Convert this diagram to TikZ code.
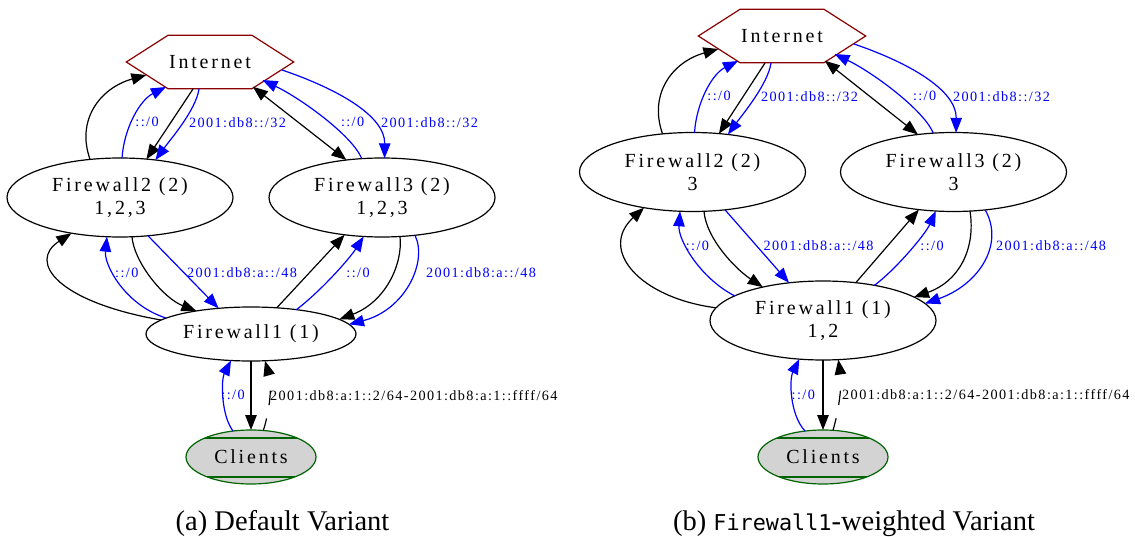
\documentclass[tikz,border=0pt]{standalone}
\usepackage{fontspec}
\setmainfont{Liberation Serif}
\newfontfamily\gvnode[LetterSpace=14]{Liberation Serif}
\newfontfamily\gvedge[LetterSpace=10]{Liberation Serif}
\newfontfamily\capmono{DejaVu Sans Mono}
\usetikzlibrary{arrows.meta,shapes.geometric,calc}

\definecolor{gvblue}{RGB}{0,0,255}
\definecolor{gvred}{RGB}{139,0,0}
\definecolor{gvgreen}{RGB}{0,100,0}
\definecolor{gvgray}{RGB}{211,211,211}

\tikzset{
  >={Triangle[length=15pt,width=11.5pt]},
  conn/.style={line width=1.2pt,->},
  bk/.style={conn,draw=black},
  bl/.style={conn,draw=gvblue},
  nodefont/.style={font=\gvnode\fontsize{20pt}{23pt}\selectfont},
  fwnode/.style={ellipse,draw,line width=1.2pt,inner sep=0pt,align=center,nodefont},
  bigfw/.style={fwnode,minimum width=226pt,minimum height=79pt},
  netnode/.style={inner sep=0pt,minimum width=167pt,minimum height=53pt,nodefont},
  netline/.style={draw=gvred,line width=1.2pt,line join=miter},
  clientnode/.style={ellipse,draw=gvgreen,fill=gvgray,line width=1.2pt,inner sep=0pt,
    minimum width=130pt,minimum height=54pt,nodefont,
    path picture={
      \draw[gvgreen,line width=1.2pt]
        ([yshift=-8pt]path picture bounding box.north west) --
        ([yshift=-8pt]path picture bounding box.north east);
      \draw[gvgreen,line width=1.2pt]
        ([yshift=7pt]path picture bounding box.south west) --
        ([yshift=7pt]path picture bounding box.south east);
    }},
  elab/.style={inner sep=0pt,font=\gvedge\fontsize{14.2pt}{17pt}\selectfont},
  blab/.style={elab,text=gvblue},
  broken/.style={dash pattern=on 12.5pt off 13.5pt on 14.5pt off 60pt},
  caption/.style={anchor=base,inner sep=0pt,font=\fontsize{28.5pt}{34pt}\selectfont},
}

\begin{document}
\begin{tikzpicture}[x=1pt,y=-1pt]
\useasboundingbox (0,0) rectangle (1135,537);

% ---------- (a) default variant: nodes ----------
\node[netnode] (aI) at (210,62) {Internet};
\node[bigfw] (aF2) at (120,197.5) {Firewall2 (2)\\1,2,3};
\node[bigfw] (aF3) at (382,197.5) {Firewall3 (2)\\1,2,3};
\node[fwnode,minimum width=210pt,minimum height=54pt] (aF1) at (251,334) {Firewall1 (1)};
\node[clientnode] (aC) at (251,457) {Clients};

% ---------- (b) weighted variant: nodes ----------
\node[netnode] (bI) at (782,36) {Internet};
\node[bigfw] (bF2) at (692.5,172) {Firewall2 (2)\\3};
\node[bigfw] (bF3) at (953.5,172) {Firewall3 (2)\\3};
\node[bigfw] (bF1) at (823,320.5) {Firewall1 (1)\\1,2};
\node[clientnode] (bC) at (823,457) {Clients};

% ---------- upper half, identical in both variants ----------
\foreach \p in {a,b}{
  % hexagon outline of the Internet node
  \draw[netline] (\p I.west) -- ([xshift=-42pt]\p I.north) -- ([xshift=42pt]\p I.north)
    -- (\p I.east) -- ([xshift=42pt]\p I.south) -- ([xshift=-42pt]\p I.south) -- cycle;
  % Firewall2 <-> Internet
  \draw[bk] ($(\p F2)+(-30,-38.3)$) .. controls ($(\p F2)+(-44,-77.5)$) and ($(\p I)+(-110,26)$) .. ($(\p I)+(-63.6,13)$);
  \draw[bl] ($(\p F2)+(2,-39.3)$) .. controls ($(\p F2)+(4,-69.5)$) and ($(\p I)+(-70,38)$) .. ($(\p I)+(-44,25)$);
  \node[blab] (\p L1) at ($(\p I)+(-63,60.3)$) {::/0};
  \draw[bk] ($(\p I)+(-17,27)$) -- ($(\p F2)+(26.4,-38.2)$);
  \draw[bl] ($(\p I)+(-11,27)$) .. controls ($(\p I)+(-14,48)$) and ($(\p F2)+(50,-57.5)$) .. ($(\p F2)+(35.4,-37.5)$);
  \node[blab] (\p L2) at ($(\p I)+(27.5,60.3)$) {2001:db8::/32};
  % Firewall3 <-> Internet
  \draw[line width=1.2pt,<->] ($(\p I)+(42.8,24.7)$) -- ($(\p F3)+(-35.6,-37.5)$);
  \draw[bl] ($(\p F3)+(-20.2,-38.8)$) .. controls ($(\p F3)+(-30,-62.5)$) and ($(\p I)+(90,36)$) .. ($(\p I)+(52.5,18)$);
  \node[blab] (\p L3) at ($(\p I)+(142.6,60.3)$) {::/0};
  \draw[bl] ($(\p I)+(72,8)$) .. controls ($(\p I)+(125,26)$) and ($(\p F3)+(3,-82.5)$) .. ($(\p F3)+(2.6,-39.2)$);
  \node[blab] (\p L4) at ($(\p I)+(219.5,60.3)$) {2001:db8::/32};
}

% ---------- (a) lower half ----------
\draw[bk] ($(aF1)+(-90,-14)$) .. controls (58,302) and (27,262) .. ($(aF2)+(-48.6,35.8)$);
\draw[bl] ($(aF1)+(-85,-16)$) .. controls (125,305) and (104,265) .. ($(aF2)+(-13,39.2)$);
\node[blab] (aL5) at (126.8,272.7) {::/0};
\draw[bk] ($(aF2)+(12,39.3)$) .. controls (134,262) and (163,298) .. ($(aF1)+(-54.6,-23)$);
\draw[bl] ($(aF2)+(28,38.3)$) -- ($(aF1)+(-32.4,-25.7)$);
\node[blab] (aL6) at (242,272.7) {2001:db8:a::/48};
\draw[bk] ($(aF1)+(25.8,-26.2)$) -- ($(aF3)+(-37.4,37.3)$);
\draw[bl] ($(aF1)+(45.4,-24.3)$) .. controls (322,290) and (350,258) .. ($(aF3)+(-18.4,39)$);
\node[blab] (aL7) at (358,272.7) {::/0};
\draw[bk] ($(aF3)+(18,39)$) .. controls (403,265) and (385,302) .. ($(aF1)+(88.3,-14.6)$);
\draw[bl] ($(aF3)+(33,37.8)$) .. controls (428,262) and (405,310) .. ($(aF1)+(98,-9.7)$);
\node[blab] (aL8) at (481,272.7) {2001:db8:a::/48};
\draw[bl] ($(aC)+(-18,-26)$) .. controls (221,415) and (221,380) .. ($(aF1)+(-20,26.5)$);
\node[blab] (aL9) at (233,395) {::/0};
\draw[bk] ($(aF1)+(0,27)$) -- ($(aC)+(0,-27)$);
\draw[bk,broken] ($(aC)+(12.3,-26.5)$) .. controls (270,410) and (272,385) .. ($(aF1)+(14,26.8)$);
\node[elab,anchor=west] (aL10) at (270,395.7) {2001:db8:a:1::2/64-2001:db8:a:1::ffff/64};

% ---------- (b) lower half ----------
\draw[bk] ($(bF1)+(-107,-12.7)$) .. controls (640,298) and (598,250) .. ($(bF2)+(-48.5,35.7)$);
\draw[bl] ($(bF1)+(-88.3,-24.6)$) .. controls (700,278) and (678,240) .. ($(bF2)+(-12.5,39.3)$);
\node[blab] (bL5) at (697.4,245.7) {::/0};
\draw[bk] ($(bF2)+(11.5,39.3)$) .. controls (706,238) and (735,268.7) .. ($(bF1)+(-60.2,-33.4)$);
\draw[bl] ($(bF2)+(32.5,37.8)$) -- ($(bF1)+(-34,-37.7)$);
\node[blab] (bL6) at (818.6,245.7) {2001:db8:a::/48};
\draw[bk] ($(bF1)+(32.8,-37.8)$) -- ($(bF3)+(-34.6,37.6)$);
\draw[bl] ($(bF1)+(51.5,-35.2)$) .. controls (895,270) and (925,235) .. ($(bF3)+(-17.7,39)$);
\node[blab] (bL7) at (932,245.7) {::/0};
\draw[bk] ($(bF3)+(16.5,39.1)$) .. controls (976,250) and (958,282) .. ($(bF1)+(91,-23.4)$);
\draw[bl] ($(bF3)+(31.7,37.9)$) .. controls (1005,245) and (978,285) .. ($(bF1)+(102,-17)$);
\node[blab] (bL8) at (1051,245.7) {2001:db8:a::/48};
\draw[bl] ($(bC)+(-18,-26)$) .. controls (790,415) and (789,380) .. ($(bF1)+(-23.7,38.6)$);
\node[blab] (bL9) at (803.3,395) {::/0};
\draw[bk] ($(bF1)+(0,39.5)$) -- ($(bC)+(0,-27)$);
\draw[bk,broken] ($(bC)+(10,-26.7)$) .. controls (839,410) and (842,385) .. ($(bF1)+(15.3,39.1)$);
\node[elab,anchor=west] (bL10) at (842,395) {2001:db8:a:1::2/64-2001:db8:a:1::ffff/64};

% ---------- captions ----------
\node[caption] (capA) at (282.5,530) {(a) Default Variant};
\node[caption] (capB) at (854,530.5) {(b) {\capmono\fontsize{21.8pt}{26pt}\selectfont Firewall1}-weighted Variant};
\end{tikzpicture}
\end{document}
